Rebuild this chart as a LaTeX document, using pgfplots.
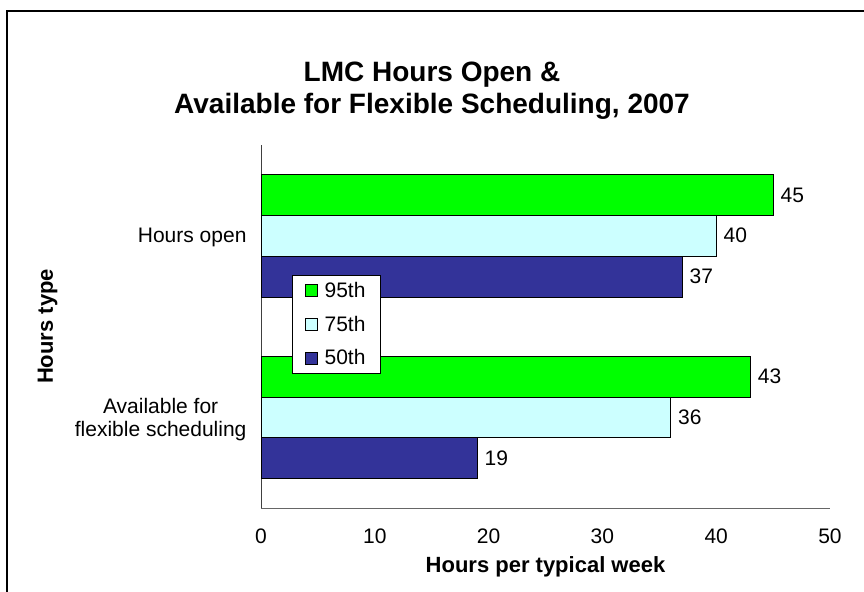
\documentclass[border=0pt]{standalone}
\usepackage{pgfplots}
\pgfplotsset{compat=1.18}
\usepackage{fontspec}
\setmainfont{Liberation Sans}
\definecolor{cA}{HTML}{00FF00}
\definecolor{cB}{HTML}{CCFFFF}
\definecolor{cC}{HTML}{333399}
\begin{document}
\begin{tikzpicture}
\path[use as bounding box] (0,0) rectangle (864bp,592bp);
\draw[line width=2bp] (7bp,0) -- (7bp,581bp) -- (864bp,581bp);
\node[align=center, font=\bfseries\fontsize{28bp}{32bp}\selectfont] at (432bp,501bp) {LMC Hours Open \&\\Available for Flexible Scheduling, 2007};
\begin{axis}[
  at={(261bp,84bp)}, anchor=south west,
  scale only axis, width=569bp, height=363bp,
  xbar, xmin=0, xmax=50, ymin=-0.5, ymax=1.5,
  clip=false,
  axis x line*=bottom, axis y line*=left,
  x axis line style={draw=black!60, -},
  y axis line style={draw=black!75, -},
  major tick length=0pt,
  xtick={0,10,20,30,40,50},
  ytick={0,1},
  yticklabels={{Available for\\flexible scheduling},{Hours open}},
  yticklabel style={align=center, anchor=east, xshift=-11bp, yshift=-2bp, font=\fontsize{21bp}{23bp}\selectfont},
  xticklabel style={anchor=center, yshift=-28bp, font=\fontsize{21bp}{24bp}\selectfont},
  /pgf/number format/assume math mode=true,
  xlabel={Hours per typical week},
  ylabel={Hours type},
  every axis x label/.style={at={(axis description cs:0.5,-0.163)}, anchor=center, font=\bfseries\fontsize{22bp}{26bp}\selectfont},
  every axis y label/.style={at={(axis description cs:-0.375,0.5)}, anchor=center, rotate=90, font=\bfseries\fontsize{22bp}{26bp}\selectfont},
  nodes near coords,
  every node near coord/.append style={font=\fontsize{21bp}{24bp}\selectfont, anchor=west, xshift=4bp},
  legend style={at={(0.0545,0.642)}, anchor=north west, draw=black, fill=white,
    font=\fontsize{21bp}{24bp}\selectfont, row sep=13bp, inner xsep=13bp, inner ysep=5bp,
    cells={anchor=west}},
  legend image code/.code={\draw[#1, draw=black] (4bp,-6bp) rectangle (16bp,6bp); \path (21bp,0bp);},
  reverse legend,
]
\addplot[fill=cC, draw=black, bar width=40.7bp, bar shift=-40.7bp] coordinates {(19,0) (37,1)};
\addplot[fill=cB, draw=black, bar width=40.7bp, bar shift=0bp] coordinates {(36,0) (40,1)};
\addplot[fill=cA, draw=black, bar width=40.7bp, bar shift=40.7bp] coordinates {(43,0) (45,1)};
\legend{50th,75th,95th}
\end{axis}
\end{tikzpicture}
\end{document}
